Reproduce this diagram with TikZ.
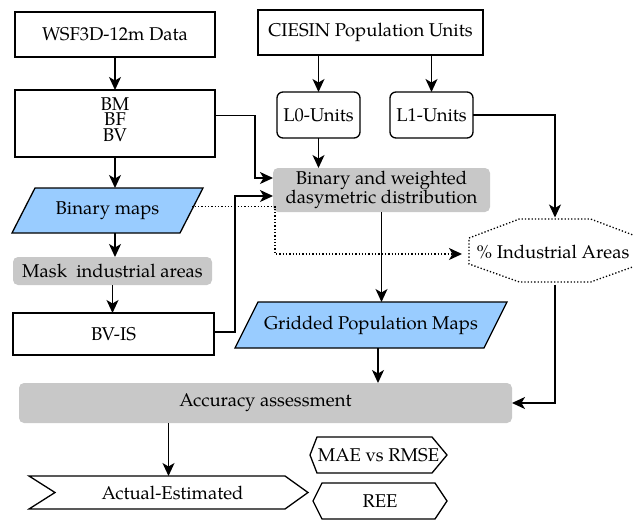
\documentclass[tikz,border=0pt]{standalone}
\usepackage{fontspec}
\setmainfont{TeX Gyre Pagella}
\usetikzlibrary{arrows.meta,calc}
\definecolor{boxblue}{RGB}{153,204,255}
\definecolor{boxgray}{RGB}{200,200,200}
\begin{document}
\begin{tikzpicture}[x=1pt,y=-1pt,
  font=\fontsize{18.5}{15}\selectfont,
  every node/.style={inner sep=0pt,outer sep=0pt},
  plainbox/.style={draw,line width=1.3pt,fill=white},
  roundbox/.style={draw,line width=1.3pt,rounded corners=6pt},
  graybox/.style={fill=boxgray,rounded corners=5pt},
  ghost/.style={draw=none},
  outl/.style={draw,line width=1.3pt,line join=miter},
  arr/.style={line width=1.3pt,-{Stealth[length=13pt,width=12pt,inset=3.5pt]}},
  dotarr/.style={line width=1.3pt,dotted,-{Stealth[length=13pt,width=12pt,inset=3.5pt]}}]
\useasboundingbox (0,0) rectangle (633,520);

% nodes
\node[plainbox,minimum width=200pt,minimum height=45pt] (wsf) at (115,34.5) {WSF3D-12m Data};
\node[plainbox,minimum width=225pt,minimum height=45pt] (ciesin) at (370.5,32.5) {CIESIN Population Units};
\node[plainbox,minimum width=200pt,minimum height=67pt] (bm) at (115,123.5) {};
\node[align=center,font=\fontsize{18.5}{15.5}\selectfont] (bmtext) at ($(bm.center)+(0,-4)$) {BM\\BF\\BV};
\node[roundbox,minimum width=83pt,minimum height=46pt] (l0) at (318.5,115) {L0-Units};
\node[roundbox,minimum width=83pt,minimum height=46pt] (l1) at (431.5,115) {L1-Units};
\node[graybox,minimum width=217pt,minimum height=44pt,align=center] (bw) at (381.5,190) {Binary and weighted\\dasymetric distribution};

\node[ghost,minimum width=191pt,minimum height=45pt] (binmaps) at (107.5,210.5) {};
\fill[boxblue] ($(binmaps.north west)+(23,0)$) -- (binmaps.north east) -- ($(binmaps.south east)+(-23,0)$) -- (binmaps.south west) -- cycle;
\draw[outl] ($(binmaps.north west)+(23,0)$) -- (binmaps.north east) -- ($(binmaps.south east)+(-23,0)$) -- (binmaps.south west) -- cycle;
\node (binmapstext) at (binmaps.center) {Binary maps};

\node[graybox,minimum width=199pt,minimum height=28pt] (mask) at (112.5,271) {Mask\ \ industrial areas};
\node[plainbox,minimum width=201pt,minimum height=42pt] (bvis) at (113.5,334) {BV-IS};

\node[ghost,minimum width=272pt,minimum height=46pt] (gridded) at (371,325) {};
\fill[boxblue] ($(gridded.north west)+(23,0)$) -- (gridded.north east) -- ($(gridded.south east)+(-23,0)$) -- (gridded.south west) -- cycle;
\draw[outl] ($(gridded.north west)+(23,0)$) -- (gridded.north east) -- ($(gridded.south east)+(-23,0)$) -- (gridded.south west) -- cycle;
\node (griddedtext) at (gridded.center) {Gridded Population Maps};

\node[graybox,minimum width=493pt,minimum height=40pt] (acc) at (265.5,403) {Accuracy assessment};

% % Industrial Areas octagon
\node[ghost,minimum width=186pt,minimum height=67pt] (ind) at (555,251) {};
\draw[line width=1.3pt,dotted]
  ($(ind.center)+(-86,-13)$) -- ($(ind.center)+(-35.6,-32)$) -- ($(ind.center)+(35.6,-32)$) -- ($(ind.center)+(86,-13)$)
  -- ($(ind.center)+(86,13)$) -- ($(ind.center)+(35.6,31)$) -- ($(ind.center)+(-35.6,31)$) -- ($(ind.center)+(-86,13)$) -- cycle;
\node (indtext) at ($(ind.center)+(-2,1)$) {\% Industrial Areas};

% Actual-Estimated
\node[ghost,minimum width=279pt,minimum height=33pt] (act) at (168.5,492.5) {};
\draw[outl] (act.north west) -- ($(act.north east)+(-23,0)$) -- (act.east) -- ($(act.south east)+(-23,0)$) -- (act.south west) -- ($(act.west)+(26,0)$) -- cycle;
\node (acttext) at ($(act.center)+(4,0)$) {Actual-Estimated};

% MAE vs RMSE
\node[ghost,minimum width=137pt,minimum height=36pt] (mae) at (378.5,455) {};
\draw[outl] (mae.west) -- ($(mae.north west)+(7,0)$) -- ($(mae.north east)+(-15,0)$) -- (mae.east) -- ($(mae.south east)+(-15,0)$) -- ($(mae.south west)+(7,0)$) -- cycle;
\node (maetext) at (mae.center) {MAE vs RMSE};

% REE
\node[ghost,minimum width=134pt,minimum height=36pt] (ree) at (380,501) {};
\draw[outl] (ree.west) -- ($(ree.north west)+(9,0)$) -- ($(ree.north east)+(-12,0)$) -- (ree.east) -- ($(ree.south east)+(-12,0)$) -- ($(ree.south west)+(9,0)$) -- cycle;
\node (reetext) at (ree.center) {REE};

% connectors
\draw[arr] (wsf.south) -- (bm.north);
\draw[arr] (l0.north |- ciesin.south) -- (l0.north);
\draw[arr] (l1.north |- ciesin.south) -- (l1.north);
\draw[arr] (l0.south) -- (l0.south |- bw.north);
\draw[arr] (bm.south) -- (bm.south |- binmaps.north);
\draw[arr] (binmaps.south -| bm.south) -- (mask.north -| bm.south);
\draw[arr] (mask.south) -- (mask.south |- bvis.north);
\draw[arr] ([yshift=8pt]bm.east) -| (255,178) -- ([yshift=12pt]bw.west);
\draw[arr] ([yshift=2pt]bvis.east) -| (235,196) -- ([yshift=-6pt]bw.west);
\draw[dotarr] ($(binmaps.east)+(-11.5,-4)$) -| (275,254) -- ([yshift=-3pt]ind.west);
\draw[arr] (bw.south) -- (bw.south |- gridded.north);
\draw[arr] ([xshift=7pt]gridded.south) -- ([xshift=7pt]gridded.south |- acc.north);
\draw[arr] (l1.east) -| (ind.north);
\draw[arr] (ind.south) |- (acc.east);
\draw[arr] (act.north |- acc.south) -- (act.north);
\end{tikzpicture}
\end{document}
